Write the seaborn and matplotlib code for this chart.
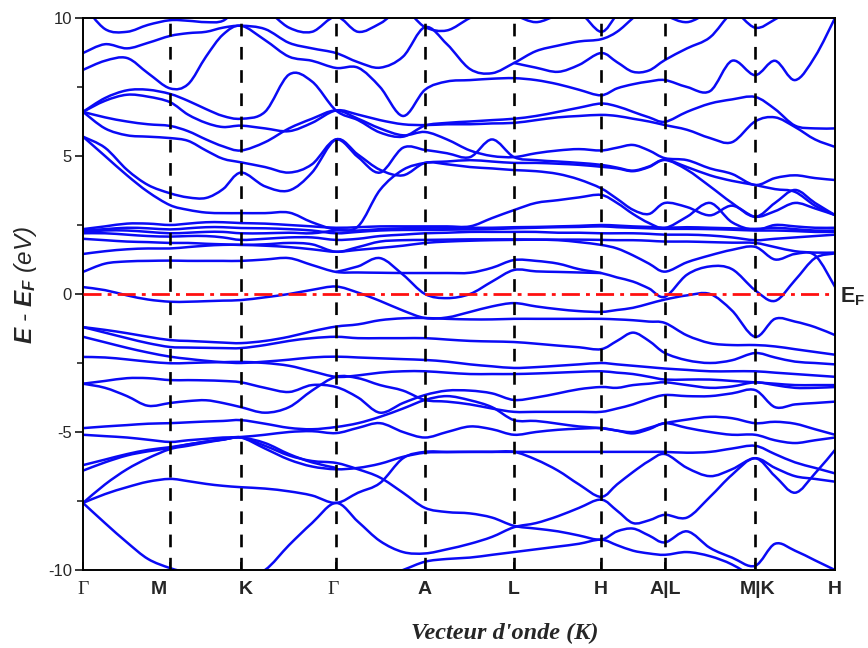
import numpy as np
import matplotlib
matplotlib.use("Agg")
import matplotlib.pyplot as plt
import matplotlib.transforms as mtransforms
from matplotlib import font_manager
from matplotlib.path import Path
from matplotlib.patches import PathPatch
import seaborn as sns

nan = np.nan

# ---- k-path (arbitrary path-length units) ----
k_points = [0, 22, 44, 65, 87, 105, 123, 140, 158, 182, 206, 229, 253, 275, 297, 320,
            342, 364, 387, 409, 431, 453, 475, 496, 518, 534, 550, 566, 582, 604, 627,
            649, 672, 692, 712, 732, 752]
k_ticks = [0, 87, 158, 253, 342, 431, 518, 582, 672, 752]
k_labels = ["\u0393", "M", "K", "\u0393", "A", "L", "H", "A|L", "M|K", "H"]

# ---- band energies E - E_F (eV) sampled at k_points ----
band_u1 = [10.5, 9.6, 9.5, 9.75, 9.92, 9.9, 9.85, 9.9, 10.4, 10.3, 9.65, 9.5, 10.05, 9.5, 9.8, 10.3,
           9.67, 9.55, 10.0, 10.3, 10.1, 9.85, 10.1, 10.2, 9.5, 10.1, 10.4, 10.4, 10.1, 9.85, 10.2,
           10.3, 9.65, 9.95, 10.4, 10.5, 10.6]
band_u2 = [8.73, 9.05, 8.9, 9.1, 9.35, 9.45, 9.5, 9.65, 9.72, 9.6, 9.1, 8.9, 8.73, 8.4, 8.2, 8.6,
           9.67, 9.05, 8.15, 8.0, 8.37, 8.8, 9.0, 9.15, 9.23, 9.5, 10.0, 10.5, nan, nan, nan,
           nan, nan, nan, nan, nan, nan]
band_u3 = [8.12, 8.45, 8.55, 8.0, 7.45, 7.6, 8.6, 9.4, 9.72, 9.2, 8.6, 8.45, 8.19, 8.2, 7.5, 6.45,
           7.4, 7.7, 7.75, 7.8, 7.82, 7.75, 7.6, 7.4, 7.2, 7.45, 7.6, 7.7, 7.75, 7.5, 7.35,
           8.45, 7.93, 8.45, 7.75, 8.6, 10.0]
band_u4 = [nan, nan, nan, nan, nan, nan, nan, nan, nan, nan, nan, nan, nan, nan, nan, nan,
           nan, nan, nan, nan, 8.37, 8.2, 8.05, 8.3, 8.73, 8.4, 8.05, 8.1, 8.48, 8.9, 9.3,
           10.2, 10.6, nan, nan, nan, nan]
band_d1 = [6.6, 7.1, 7.38, 7.4, 7.25, 7.0, 6.7, 6.45, 6.35, 6.6, 7.95, 7.7, 6.65, 6.3, 5.85, 5.7,
           6.1, 6.2, 6.25, 6.3, 6.35, 6.45, 6.6, 6.75, 6.9, 6.8, 6.6, 6.4, 6.24, 6.6, 6.9,
           7.05, 7.14, 6.7, 6.1, 6.0, 6.0]
band_d2 = [6.6, 7.0, 7.22, 7.15, 6.95, 6.5, 6.2, 6.05, 6.1, 6.0, 5.9, 6.2, 6.65, 6.5, 6.3, 6.15,
           6.12, 6.15, 6.15, 6.18, 6.2, 6.3, 6.4, 6.45, 6.49, 6.45, 6.35, 6.25, 6.12, 5.95, 5.65,
           5.5, 6.25, 6.4, 6.05, 5.6, 5.33]
band_e1 = [6.6, 6.4, 6.25, 6.15, 6.09, 5.9, 5.6, 5.35, 5.2, 5.5, 6.0, 6.35, 6.65, 6.35, 6.0, 5.75,
           5.87, 5.6, 5.2, 5.0, 4.96, 5.1, 5.2, 5.25, 5.2, 5.3, 5.4, 5.2, 4.92, 4.85, 4.55,
           4.35, 3.95, 4.2, 4.3, 4.2, 4.13]
band_e2 = [6.6, 6.0, 5.75, 5.7, 5.65, 5.55, 5.2, 4.9, 4.77, 4.6, 4.4, 4.7, 5.6, 4.96, 4.4, 5.3,
           5.22, 5.1, 4.96, 5.6, 4.96, 4.85, 4.8, 4.75, 4.68, 4.58, 4.47, 4.62, 4.86, 4.5, 3.9,
           3.3, 2.8, 3.3, 3.77, 3.3, 2.86]
band_f1 = [5.7, 5.3, 4.5, 3.95, 3.65, 3.5, 3.48, 3.8, 4.4, 3.9, 3.75, 4.4, 5.6, 5.05, 4.5, 4.3,
           4.75, 4.7, 4.6, 4.55, 4.49, 4.45, 4.35, 4.15, 3.83, 3.45, 3.05, 2.9, 3.3, 3.15, 2.85,
           3.2, 2.8, 3.0, 3.3, 3.1, 2.86]
band_f2 = [5.7, 5.0, 4.3, 3.7, 3.22, 3.05, 2.95, 2.93, 2.93, 2.93, 2.95, 2.6, 2.34, 2.45, 3.77, 4.5,
           4.75, 4.8, 4.85, 4.8, 4.75, 4.75, 4.72, 4.68, 4.61, 4.55, 4.45, 4.6, 4.86, 4.6, 4.3,
           4.1, 3.95, 3.8, 3.7, 3.2, 2.86]
band_g1 = [2.35, 2.45, 2.55, 2.55, 2.5, 2.55, 2.6, 2.6, 2.57, 2.55, 2.5, 2.45, 2.4, 2.42, 2.45, 2.45,
           2.45, 2.45, 2.45, 2.75, 3.04, 3.3, 3.4, 3.5, 3.59, 3.3, 2.9, 2.57, 2.39, 2.8, 3.3,
           2.6, 2.32, 2.5, 2.45, 2.4, 2.4]
band_g2 = [2.3, 2.35, 2.4, 2.38, 2.34, 2.38, 2.42, 2.42, 2.39, 2.38, 2.35, 2.3, 2.2, 2.25, 2.3, 2.32,
           2.32, 2.33, 2.34, 2.35, 2.38, 2.4, 2.42, 2.43, 2.45, 2.42, 2.4, 2.38, 2.36, 2.36, 2.35,
           2.33, 2.3, 2.3, 2.28, 2.25, 2.25]
band_g3 = [2.2, 2.2, 2.15, 2.1, 2.08, 2.1, 2.1, 2.05, 1.96, 2.0, 2.05, 2.05, 1.96, 2.0, 2.1, 2.15,
           2.2, 2.22, 2.25, 2.25, 2.25, 2.25, 2.22, 2.22, 2.2, 2.2, 2.2, 2.18, 2.15, 2.15, 2.12,
           2.05, 1.95, 2.0, 2.05, 2.1, 2.15]
band_g4 = [2.0, 1.95, 1.9, 1.88, 1.85, 1.85, 1.82, 1.8, 1.78, 1.8, 1.85, 1.8, 1.53, 1.7, 1.9, 1.95,
           1.96, 1.97, 1.98, 1.98, 1.98, 1.97, 1.95, 1.88, 1.78, 1.65, 1.4, 1.1, 0.81, 1.15, 1.4,
           1.6, 1.71, 1.25, 1.45, 1.4, 0.26]
band_g5 = [1.45, 1.55, 1.62, 1.65, 1.65, 1.7, 1.75, 1.78, 1.78, 1.75, 1.7, 1.62, 1.53, 1.6, 1.67, 1.75,
           1.85, 1.9, 1.93, 1.95, 1.96, 1.97, 1.97, 1.97, 1.96, 1.95, 1.95, 1.93, 1.9, 1.9, 1.88,
           1.86, 1.85, 1.7, 1.55, 1.5, 1.5]
band_g6 = [2.25, 2.3, 2.3, 2.25, 2.2, 2.22, 2.25, 2.25, 2.2, 2.2, 2.22, 2.2, 2.3, 2.3, 2.35, 2.38,
           2.4, 2.4, 2.4, 2.4, 2.42, 2.43, 2.45, 2.47, 2.5, 2.48, 2.45, 2.43, 2.4, 2.42, 2.4,
           2.38, 2.36, 2.4, 2.35, 2.3, 2.3]
band_n1 = [0.25, 0.14, -0.05, -0.2, -0.28, -0.28, -0.26, -0.24, -0.22, -0.12, 0.0, 0.15, 0.27, 0.05, -0.25, -0.6,
           -0.87, -0.85, -0.65, -0.45, -0.33, -0.45, -0.55, -0.62, -0.65, -0.58, -0.5, -0.35, -0.2, -0.05, 0.0,
           -0.6, -1.55, -0.9, -1.0, -1.2, -1.49]
band_n2 = [0.8, 1.1, 1.18, 1.2, 1.21, 1.2, 1.2, 1.2, 1.2, 1.25, 1.3, 1.05, 0.8, 0.78, 0.77, 0.76,
           0.76, 0.76, 0.77, 0.95, 1.23, 1.2, 1.1, 0.9, 0.76, 0.6, 0.45, 0.2, -0.1, 0.7, 1.0,
           0.9, 0.14, -0.25, 0.5, 1.3, 1.47]
band_n3 = [nan, nan, nan, nan, nan, nan, nan, nan, nan, nan, nan, nan, 0.8, 1.0, 1.3, 0.7,
           0.0, -0.15, 0.0, 0.45, 0.87, 0.82, 0.8, 0.78, 0.76, nan, nan, nan, nan, nan, nan,
           nan, nan, nan, nan, nan, nan]
band_v1 = [-1.2, -1.3, -1.42, -1.55, -1.67, -1.7, -1.73, -1.76, -1.78, -1.7, -1.55, -1.35, -1.18, -1.1, -0.95, -0.88,
           -0.87, -0.9, -0.92, -0.92, -0.9, -0.9, -0.9, -0.9, -0.9, -0.92, -0.95, -1.0, -1.05, -1.5, -1.78,
           -1.85, -1.85, -1.9, -2.0, -2.1, -2.2]
band_v2 = [-1.2, -1.4, -1.6, -1.78, -1.92, -1.94, -1.95, -1.96, -1.96, -1.85, -1.7, -1.6, -1.55, -1.6, -1.6, -1.6,
           -1.6, -1.65, -1.7, -1.72, -1.74, -1.8, -1.87, -1.93, -2.0, -1.7, -1.4, -1.7, -2.14, -2.4, -2.5,
           -2.4, -2.14, -2.3, -2.45, -2.5, -2.55]
band_v3 = [-1.55, -1.75, -1.95, -2.12, -2.27, -2.35, -2.42, -2.47, -2.5, -2.45, -2.38, -2.3, -2.27, -2.3, -2.33, -2.36,
           -2.39, -2.45, -2.55, -2.62, -2.68, -2.65, -2.6, -2.55, -2.5, -2.55, -2.6, -2.65, -2.7, -2.75, -2.8,
           -2.8, -2.8, -2.85, -2.9, -2.95, -3.0]
band_v4 = [-2.28, -2.3, -2.37, -2.45, -2.51, -2.5, -2.48, -2.47, -2.46, -2.5, -2.6, -2.8, -3.0, -2.95, -2.85, -2.8,
           -2.8, -2.85, -2.9, -2.9, -2.9, -2.88, -2.85, -2.82, -2.8, -2.85, -2.9, -3.0, -3.1, -3.1, -3.1,
           -3.15, -3.2, -3.25, -3.3, -3.3, -3.3]
band_v5 = [-3.25, -3.15, -3.05, -3.05, -3.12, -3.12, -3.13, -3.15, -3.2, -3.4, -3.55, -3.3, -3.37, -3.75, -4.3, -3.95,
           -3.66, -3.5, -3.5, -3.6, -3.84, -3.75, -3.6, -3.45, -3.37, -3.4, -3.3, -3.25, -3.2, -3.3, -3.4,
           -3.35, -3.2, -3.3, -3.4, -3.4, -3.37]
band_v6 = [-3.25, -3.4, -3.7, -4.05, -3.95, -3.88, -3.85, -3.95, -4.1, -4.3, -4.1, -3.5, -3.0, -3.05, -3.3, -3.5,
           -3.84, -3.9, -4.0, -4.15, -4.27, -4.27, -4.27, -4.27, -4.27, -4.15, -4.0, -3.8, -3.66, -3.7, -3.7,
           -3.6, -3.48, -4.1, -4.0, -3.95, -3.9]
band_v7 = [-4.86, -4.8, -4.75, -4.7, -4.68, -4.65, -4.62, -4.6, -4.57, -4.7, -4.85, -4.9, -4.82, -4.68, -4.45, -4.15,
           -3.84, -3.7, -3.85, -4.1, -4.57, -4.6, -4.7, -4.8, -4.86, -4.95, -5.0, -4.85, -4.68, -4.55, -4.45,
           -4.5, -4.68, -4.63, -4.7, -4.9, -5.1]
band_v8 = [-5.1, -5.15, -5.2, -5.28, -5.36, -5.3, -5.25, -5.2, -5.18, -5.1, -5.0, -4.97, -5.04, -4.85, -4.68, -5.0,
           -5.2, -5.0, -4.8, -4.9, -5.1, -5.0, -4.92, -4.88, -4.86, -4.95, -5.05, -4.9, -4.68, -4.85, -5.0,
           -5.1, -5.1, -5.3, -5.4, -5.3, -5.2]
band_w1 = [-6.2, -6.0, -5.8, -5.65, -5.55, -5.45, -5.35, -5.27, -5.2, -5.5, -5.85, -6.05, -6.12, -6.35, -6.65, -7.2,
           -7.75, -7.9, -7.95, -8.1, -8.4, -8.5, -8.6, -8.75, -8.9, -8.6, -8.5, -8.75, -9.0, -8.6, -9.2,
           -9.55, -9.85, -9.05, -9.3, -9.65, -10.0]
band_w2 = [-6.4, -6.1, -5.85, -5.7, -5.58, -5.45, -5.35, -5.27, -5.2, -5.4, -5.8, -6.1, -6.3, nan, nan, nan,
           nan, nan, nan, nan, nan, nan, nan, nan, nan, nan, nan, nan, nan, nan, nan,
           nan, nan, nan, nan, nan, nan]
band_w3 = [-7.57, -6.9, -6.35, -5.95, -5.62, -5.5, -5.38, -5.28, -5.2, -5.6, -6.0, -6.25, -6.35, -6.3, -6.15, -5.9,
           -5.75, -5.73, -5.72, -5.72, -5.72, -5.72, -5.72, -5.72, -5.72, -5.72, -5.72, -5.72, -5.72, -5.75, -5.72,
           -5.6, -5.5, -5.8, -6.1, -6.3, -6.5]
band_w4 = [-7.57, -7.25, -7.0, -6.8, -6.7, -6.78, -6.88, -6.95, -7.0, -7.05, -7.15, -7.3, -7.57, -7.2, -6.85, -5.95,
           -5.72, -5.72, -5.72, -5.72, -5.72, -6.0, -6.4, -6.9, -7.35, -6.9, -6.45, -6.05, -5.8, -6.3, -6.6,
           -6.35, -5.95, -6.3, -6.6, -6.7, -6.8]
band_w5 = [-7.57, -8.3, -9.0, -9.6, -9.93, -10.1, -10.25, -10.3, -10.3, -10.0, -9.1, -8.3, -7.57, -8.25, -8.95, -9.35,
           -9.4, -9.25, -9.05, -8.8, -8.45, -8.3, -8.05, -7.75, -7.45, -7.85, -8.3, -8.2, -8.0, -8.1, -7.35,
           -6.55, -5.95, -6.6, -7.2, -6.5, -5.65]
band_w6 = [nan, nan, nan, nan, nan, nan, nan, nan, nan, nan, nan, nan, nan, -10.6, -10.3, -10.0,
           -9.7, -9.6, -9.55, -9.45, -9.35, -9.25, -9.15, -9.05, -8.9, -9.1, -9.3, -9.4, -9.45, -9.35, -9.5,
           -9.8, -10.3, nan, nan, nan, nan]

bands = [band_u1, band_u2, band_u3, band_u4, band_d1, band_d2, band_e1, band_e2, band_f1, band_f2,
         band_g1, band_g2, band_g3, band_g4, band_g5, band_g6, band_n1, band_n2, band_n3,
         band_v1, band_v2, band_v3, band_v4, band_v5, band_v6, band_v7, band_v8,
         band_w1, band_w2, band_w3, band_w4, band_w5, band_w6]

E_FERMI = 0.0
E_LIMITS = (-10, 10)

# ---- style ----
sns.set_style("ticks")
plt.rcParams["font.family"] = ["Liberation Sans", "DejaVu Sans"]
plt.rcParams["mathtext.fontset"] = "custom"
plt.rcParams["mathtext.rm"] = "Liberation Sans"
plt.rcParams["mathtext.it"] = "Liberation Sans:italic:bold"
plt.rcParams["mathtext.bf"] = "Liberation Sans:bold"

_installed = {f.name for f in font_manager.fontManager.ttflist}
if "Liberation Sans Narrow" in _installed:
    POINT_FONT, POINT_SIZE = "Liberation Sans Narrow", 16
elif "DejaVu Sans Condensed" in _installed:
    POINT_FONT, POINT_SIZE = "DejaVu Sans Condensed", 14
else:
    POINT_FONT, POINT_SIZE = "Liberation Sans", 14

BAND_COLOR = "#0a0af5"

fig = plt.figure(figsize=(8.68, 6.48), dpi=100)
ax = fig.add_axes([83 / 868, 1 - 570 / 648, (835 - 83) / 868, (570 - 18) / 648])


def smooth_segments(k, e):
    """Split a band at missing values and return Catmull-Rom Bezier paths."""
    k = np.asarray(k, float)
    e = np.asarray(e, float)
    ok = ~np.isnan(e)
    paths = []
    start = None
    for i in range(len(e) + 1):
        if i < len(e) and ok[i]:
            if start is None:
                start = i
        elif start is not None:
            pts = np.column_stack([k[start:i], e[start:i]])
            if len(pts) >= 2:
                verts = [pts[0]]
                codes = [Path.MOVETO]
                n = len(pts)
                for j in range(n - 1):
                    p0 = pts[j - 1] if j > 0 else pts[j]
                    p1, p2 = pts[j], pts[j + 1]
                    p3 = pts[j + 2] if j + 2 < n else pts[j + 1]
                    verts += [p1 + (p2 - p0) / 6.0, p2 - (p3 - p1) / 6.0, p2]
                    codes += [Path.CURVE4] * 3
                paths.append(Path(verts, codes))
            start = None
    return paths


for band in bands:
    for p in smooth_segments(k_points, band):
        ax.add_patch(PathPatch(p, facecolor="none", edgecolor=BAND_COLOR,
                               lw=1.8, capstyle="round", joinstyle="round", zorder=2))

# vertical dashed lines at the high-symmetry points
for kt in k_ticks[1:-1]:
    ax.plot([kt, kt], list(E_LIMITS), color="black", lw=1.9,
            dashes=(4.8, 4.0), zorder=3)

# Fermi level
sns.lineplot(x=[k_ticks[0], k_ticks[-1]], y=[E_FERMI, E_FERMI], ax=ax, color="#ff1010",
             lw=2.0, linestyle=(0, (6.5, 2.2, 1.4, 2.2)), zorder=4)

ax.set_xlim(k_ticks[0], k_ticks[-1])
ax.set_ylim(*E_LIMITS)

# axes frame and ticks
for side in ax.spines.values():
    side.set_color("black")
    side.set_linewidth(1.4)

ax.set_yticks([-10, -5, 0, 5, 10])
ax.set_yticks([-7.5, -2.5, 2.5, 7.5], minor=True)
ax.set_yticklabels(["-10", "-5", "0", "5", "10"])
ax.tick_params(axis="y", which="major", direction="out", length=6, width=1.3,
               labelsize=12, pad=2, right=False)
ax.tick_params(axis="y", which="minor", direction="out", length=4, width=1.2, right=False)

ax.set_xticks(k_ticks)
ax.set_xticklabels(k_labels)
ax.tick_params(axis="x", which="major", direction="in", length=6, width=1.3,
               labelsize=POINT_SIZE, pad=8, top=False)
label_shift = {1: -11, 2: 5, 3: -3, 8: 3}
for i, lab in enumerate(ax.get_xticklabels()):
    if k_labels[i] == "\u0393":
        lab.set_fontfamily("Liberation Serif")
        lab.set_fontsize(14)
    else:
        lab.set_fontfamily(POINT_FONT)
        lab.set_fontweight("bold")
    if i in label_shift:
        lab.set_transform(lab.get_transform() +
                          mtransforms.ScaledTranslation(label_shift[i] / 100, 0, fig.dpi_scale_trans))

ax.set_xlabel("")
ax.set_ylabel(r"$E$ - $E_F$ (eV)", fontsize=17.5, fontstyle="italic")
ax.yaxis.set_label_coords(-0.058, 0.516)

fig.text(505 / 868, 1 - 633 / 648, "Vecteur d'onde (K)", ha="center", va="center",
         fontsize=17.5, fontfamily="Liberation Serif", fontweight="bold", fontstyle="italic")

ax.text(1.007, -0.1, r"$\mathbf{E}_\mathbf{F}$",
        transform=mtransforms.blended_transform_factory(ax.transAxes, ax.transData),
        ha="left", va="center", fontsize=15.5, clip_on=False)

fig.savefig("out.png", dpi=100, facecolor="white")
